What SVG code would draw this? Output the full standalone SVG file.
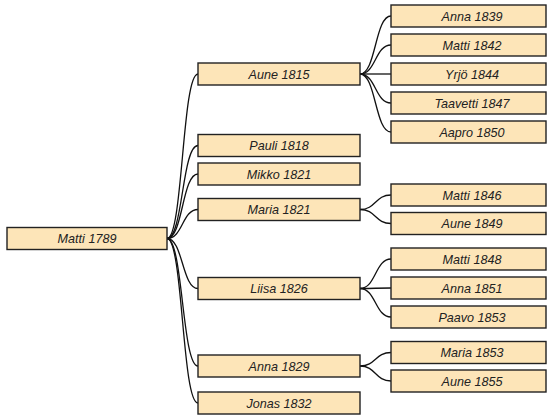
<svg xmlns="http://www.w3.org/2000/svg" width="547" height="415" viewBox="0 0 547 415">
<style>
.b{fill:#fde5b8;stroke:#222;stroke-width:1.4}
.t{font-family:"Liberation Sans",Arial,sans-serif;font-style:italic;font-size:12.6px;fill:#222;text-anchor:middle}
.c{fill:none;stroke:#111;stroke-width:1.3}
</style>
<rect width="547" height="415" fill="#fff"/>
<g id="connectors">
<path class="c" d="M167,238.5 C183,238.5 182,74 198,74"/>
<path class="c" d="M167,238.5 C183,238.5 182,145.5 198,145.5"/>
<path class="c" d="M167,238.5 C183,238.5 182,174 198,174"/>
<path class="c" d="M167,238.5 C183,238.5 182,209.5 198,209.5"/>
<path class="c" d="M167,238.5 C183,238.5 182,288.5 198,288.5"/>
<path class="c" d="M167,238.5 C183,238.5 182,366 198,366"/>
<path class="c" d="M167,238.5 C183,238.5 182,403 198,403"/>
<path class="c" d="M360,74 C376,74 375,16 391,16"/>
<path class="c" d="M360,74 C376,74 375,45 391,45"/>
<path class="c" d="M360,74 C376,74 375,74 391,74"/>
<path class="c" d="M360,74 C376,74 375,103 391,103"/>
<path class="c" d="M360,74 C376,74 375,132 391,132"/>
<path class="c" d="M360,209.5 C376,209.5 375,195 391,195"/>
<path class="c" d="M360,209.5 C376,209.5 375,223.5 391,223.5"/>
<path class="c" d="M360,288.5 C376,288.5 375,259 391,259"/>
<path class="c" d="M360,288.5 C376,288.5 375,288 391,288"/>
<path class="c" d="M360,288.5 C376,288.5 375,317 391,317"/>
<path class="c" d="M360,366 C376,366 375,352.5 391,352.5"/>
<path class="c" d="M360,366 C376,366 375,381 391,381"/>
</g>
<g id="n-matti1789"><rect class="b" x="7" y="227.5" width="160" height="22"/><text class="t" x="87" y="243">Matti 1789</text></g>
<g id="n-aune1815"><rect class="b" x="198" y="63" width="162" height="22"/><text class="t" x="279" y="78.5">Aune 1815</text></g>
<g id="n-pauli1818"><rect class="b" x="198" y="134.5" width="162" height="22"/><text class="t" x="279" y="150">Pauli 1818</text></g>
<g id="n-mikko1821"><rect class="b" x="198" y="163" width="162" height="22"/><text class="t" x="279" y="178.5">Mikko 1821</text></g>
<g id="n-maria1821"><rect class="b" x="198" y="198.5" width="162" height="22"/><text class="t" x="279" y="214">Maria 1821</text></g>
<g id="n-liisa1826"><rect class="b" x="198" y="277.5" width="162" height="22"/><text class="t" x="279" y="293">Liisa 1826</text></g>
<g id="n-anna1829"><rect class="b" x="198" y="355" width="162" height="22"/><text class="t" x="279" y="370.5">Anna 1829</text></g>
<g id="n-jonas1832"><rect class="b" x="198" y="392" width="162" height="22"/><text class="t" x="279" y="407.5">Jonas 1832</text></g>
<g id="n-anna1839"><rect class="b" x="391" y="5" width="155" height="22"/><text class="t" x="472" y="20.5">Anna 1839</text></g>
<g id="n-matti1842"><rect class="b" x="391" y="34" width="155" height="22"/><text class="t" x="472" y="49.5">Matti 1842</text></g>
<g id="n-yrjo1844"><rect class="b" x="391" y="63" width="155" height="22"/><text class="t" x="472" y="78.5">Yrjö 1844</text></g>
<g id="n-taavetti1847"><rect class="b" x="391" y="92" width="155" height="22"/><text class="t" x="472" y="107.5">Taavetti 1847</text></g>
<g id="n-aapro1850"><rect class="b" x="391" y="121" width="155" height="22"/><text class="t" x="472" y="136.5">Aapro 1850</text></g>
<g id="n-matti1846"><rect class="b" x="391" y="184" width="155" height="22"/><text class="t" x="472" y="199.5">Matti 1846</text></g>
<g id="n-aune1849"><rect class="b" x="391" y="212.5" width="155" height="22"/><text class="t" x="472" y="228">Aune 1849</text></g>
<g id="n-matti1848"><rect class="b" x="391" y="248" width="155" height="22"/><text class="t" x="472" y="263.5">Matti 1848</text></g>
<g id="n-anna1851"><rect class="b" x="391" y="277" width="155" height="22"/><text class="t" x="472" y="292.5">Anna 1851</text></g>
<g id="n-paavo1853"><rect class="b" x="391" y="306" width="155" height="22"/><text class="t" x="472" y="321.5">Paavo 1853</text></g>
<g id="n-maria1853"><rect class="b" x="391" y="341.5" width="155" height="22"/><text class="t" x="472" y="357">Maria 1853</text></g>
<g id="n-aune1855"><rect class="b" x="391" y="370" width="155" height="22"/><text class="t" x="472" y="385.5">Aune 1855</text></g>
</svg>
